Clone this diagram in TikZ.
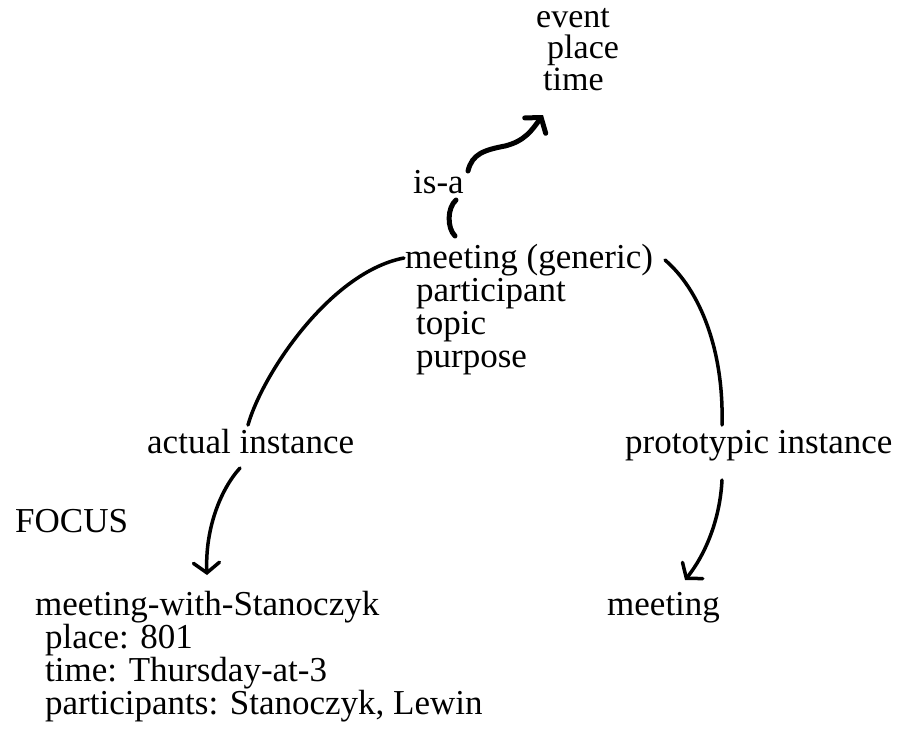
\documentclass[tikz,border=0pt]{standalone}
\usepackage{fontspec}
\setmainfont{Liberation Serif}
\usetikzlibrary{arrows.meta,calc}
\begin{document}
\begin{tikzpicture}[x=1pt,y=-1pt,
  label/.style={anchor=base west,inner sep=0pt,align=left,
    font=\fontsize{35pt}{33pt}\selectfont},
  link/.style={line width=3.5pt,line cap=round},
  heavy/.style={line width=5pt,line cap=round},
  barb/.style={-{Straight Barb[length=10pt,width=26pt,line cap=round]}}]
\useasboundingbox (0,0) rectangle (908,734);

% frames and labels (a multi-line node sits on the baseline of its last line)
\node[label,font=\fontsize{34pt}{31.5pt}\selectfont] (event) at (536,90)
  {event\\\hspace*{11pt}place\\\hspace*{7pt}time};
\node[label] (isa) at (413,193) {is-a};
\node[label] (generic) at (405,367)
  {meeting (generic)\\\hspace*{11pt}participant\\\hspace*{11pt}topic\\\hspace*{11pt}purpose};
\node[label] (actual) at (147,453) {actual instance};
\node[label] (proto) at (625,453) {prototypic instance};
\node[label] (focus) at (15,532) {FOCUS};
\node[label] (mws) at (35,714)
  {meeting-with-Stanoczyk\\\hspace*{10pt}place: 801\\\hspace*{10pt}time: Thursday-at-3\\\hspace*{10pt}participants: Stanoczyk, Lewin};
\node[label] (meet) at (607,615) {meeting};

% is-a link up to the event frame
\draw[heavy,barb] ($(isa.base west)+(55,-22)$)
  .. controls (472,154) and (484,150) .. (505,146)
  .. controls (525,141) and (532,130) .. ($(event.base west)+(7,25)$);
\draw[heavy] ($(generic.base west)+(50,-131)$)
  .. controls (447,228) and (447,208) .. ($(isa.base west)+(43,7)$);

% instance links
\draw[link] ($(actual.base west)+(101,-28)$)
  .. controls (262,375) and (330,272) .. ($(generic.base west)+(-1,-109)$);
\draw[link] ($(generic.base west)+(260,-107)$)
  .. controls (700,290) and (724,350) .. ($(proto.base west)+(97,-28)$);
\draw[link,barb] ($(actual.base west)+(93,15)$)
  .. controls (220,490) and (205,530) .. ($(mws.base west)+(172,-139)$);
\draw[link,barb] ($(proto.base west)+(97,27)$)
  .. controls (720,520) and (705,555) .. ($(meet.base west)+(78,-35)$);
\end{tikzpicture}
\end{document}
